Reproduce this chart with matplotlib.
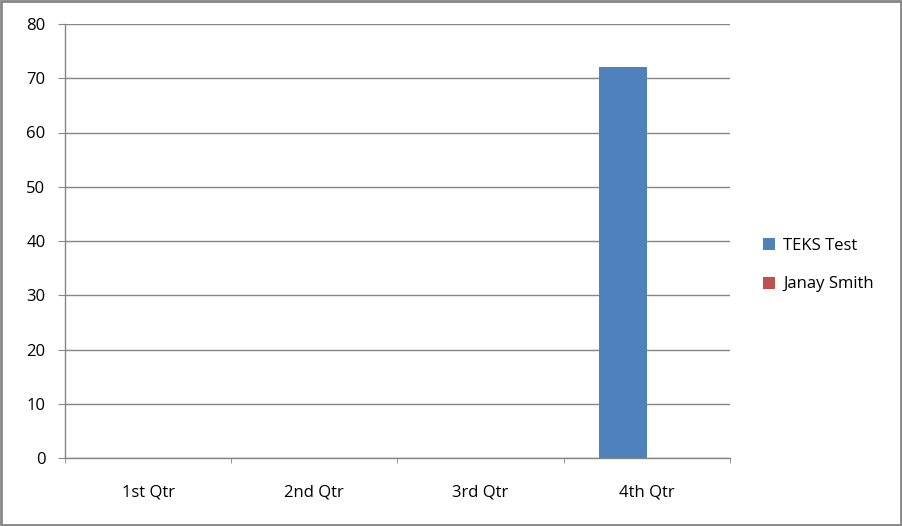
import matplotlib.pyplot as plt
import numpy as np
from matplotlib.patches import Rectangle

plt.rcParams['font.family'] = ['Open Sans', 'DejaVu Sans']

categories = ['1st Qtr', '2nd Qtr', '3rd Qtr', '4th Qtr']
teks_test = [0, 0, 0, 72]
janay_smith = [0, 0, 0, 0]
series_names = ['TEKS Test', 'Janay Smith']
colors = ['#4F81BD', '#C0504D']
grid_col = '#868686'

fig = plt.figure(figsize=(9.03, 5.26), dpi=100)
ax = fig.add_axes([65 / 903, 68 / 526, 665 / 903, 434 / 526])

x = np.arange(len(categories))
w = 0.289
ax.bar(x - w / 2, teks_test, w, color=colors[0], label=series_names[0], zorder=3)
ax.bar(x + w / 2, janay_smith, w, color=colors[1], label=series_names[1], zorder=3)

ax.set_xlim(-0.5, 3.5)
ax.set_ylim(0, 80)
ax.set_yticks(range(0, 81, 10))
ax.yaxis.grid(True, color=grid_col, linewidth=1)
ax.set_axisbelow(True)

ax.set_xticks(x)
ax.set_xticklabels(categories)
ax.set_xticks(np.arange(-0.5, 3.6, 1), minor=True)
ax.tick_params(axis='x', which='major', length=0, pad=19, labelsize=12)
ax.tick_params(axis='x', which='minor', length=3.6, color=grid_col, direction='out')
ax.tick_params(axis='y', length=5, color=grid_col, pad=9, labelsize=12)

for s in ['top', 'right']:
    ax.spines[s].set_visible(False)
for s in ['left', 'bottom']:
    ax.spines[s].set_color(grid_col)
    ax.spines[s].set_linewidth(1)

ax.legend(loc='center left', bbox_to_anchor=(763 / 903, 1 - 265 / 526),
          bbox_transform=fig.transFigure, frameon=False, fontsize=12,
          handlelength=0.7, handleheight=0.7, handletextpad=0.5,
          labelspacing=1.38, borderpad=0, borderaxespad=0)

fig.patches.append(Rectangle((0.001, 0.002), 0.997, 0.996, transform=fig.transFigure,
                             fill=False, edgecolor=grid_col, linewidth=2))

fig.savefig('out.png', dpi=100)
